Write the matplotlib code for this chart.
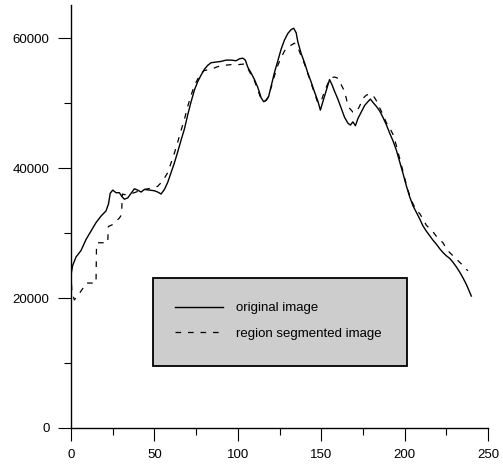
import matplotlib
matplotlib.use("Agg")
import matplotlib.pyplot as plt
from matplotlib.patches import Rectangle
from matplotlib.ticker import MultipleLocator

plt.rcParams['font.family'] = ['Liberation Sans', 'DejaVu Sans']

# original image profile
orig_x = [0, 1, 3, 6, 9, 12, 15, 18, 21, 22.5, 23.5, 25, 27, 29, 30.5, 32, 34, 36, 38, 40,
          42, 44, 47, 50, 52, 54, 56, 58, 60, 62, 64, 66, 68, 70, 72, 74, 76, 78, 80, 82,
          84, 87, 90, 93, 96, 99, 101, 103, 104.5, 106, 108, 110, 112, 114, 115.5, 117,
          118.5, 120, 122, 124, 126, 128, 130, 132, 133.5, 135, 136, 138, 140, 142, 144,
          146, 148, 149.5, 151, 153, 155, 156.5, 158, 160, 162, 164, 166, 167.5, 169,
          170.5, 172, 174, 176, 178, 179.5, 181, 183, 185, 187, 189, 191, 193, 195, 197,
          199, 201, 203, 205, 207, 209, 211, 213, 215, 217, 219, 221, 223, 225, 227, 229,
          231, 233, 235, 237, 238.5, 240]
orig_y = [23600, 25000, 26300, 27300, 29000, 30300, 31600, 32600, 33400, 34500, 36100,
          36600, 36200, 36200, 35600, 35200, 35400, 36100, 36800, 36600, 36300, 36700,
          36600, 36500, 36300, 36000, 36700, 37800, 39300, 40800, 42500, 44300, 46000,
          48200, 50200, 52000, 53300, 54300, 55200, 55800, 56200, 56300, 56400, 56600,
          56600, 56500, 56800, 56900, 56600, 55500, 54600, 53600, 52400, 50800, 50200,
          50400, 51000, 52600, 54700, 56500, 58300, 59700, 60700, 61300, 61500, 60800,
          59400, 57600, 56200, 54600, 53200, 51700, 50300, 48900, 50200, 51900, 53600,
          52800, 51800, 50600, 49200, 47800, 46900, 46600, 47100, 46500, 47600, 48600,
          49600, 50200, 50600, 50100, 49500, 48800, 47800, 46700, 45400, 44200, 42800,
          41000, 39200, 37300, 35600, 34200, 33200, 32200, 31100, 30300, 29600, 28900,
          28300, 27600, 27000, 26500, 26100, 25500, 24800, 24000, 23100, 22100, 21200,
          20300]

# region segmented image profile
seg_x = [0, 0.5, 2, 5, 8, 9, 15, 15.3, 16, 22, 22.4, 25, 29, 30.3, 30.8, 32, 35, 38, 42,
         46, 50, 52, 55, 58, 60, 62, 64, 66, 68, 70, 72, 74, 76, 78, 80, 84, 88, 92, 96,
         100, 104, 106, 110, 114, 116, 118, 120, 122, 124, 126, 128, 130, 132, 134, 136,
         138, 140, 144, 148, 150, 152, 154, 156, 158, 160, 162, 164, 165.5, 167, 169, 171,
         173, 175, 177, 179, 181, 183, 185, 187, 189, 191, 193, 195, 197, 199, 201, 203,
         205, 207, 209, 211, 213, 215, 217, 219, 221, 223, 225, 227, 229, 231, 233, 235,
         237, 238]
seg_y = [24000, 21000, 19700, 20700, 21800, 22300, 22300, 28300, 28500, 28500, 31000,
         31300, 32300, 32800, 36000, 35900, 36000, 36200, 36600, 36800, 37000, 37200,
         38000, 39300, 40800, 42300, 44000, 45800, 47500, 49500, 51200, 52700, 53700,
         54600, 55000, 55200, 55600, 55800, 55900, 55900, 56000, 55300, 53400, 50600,
         50200, 50800, 52400, 54200, 55800, 57000, 58000, 58600, 58900, 59200, 58600,
         57200, 56000, 53000, 50000, 50300, 51800, 53000, 53900, 54000, 53800, 52800,
         51800, 50200, 49200, 48600, 48600, 49500, 50700, 51200, 51400, 51200, 50400,
         49300, 48200, 47000, 46200, 45200, 43500, 41500, 39500, 37500, 35800, 34500,
         33500, 33000, 32200, 31200, 30700, 30200, 29500, 29000, 28500, 27600, 27000,
         26500, 26000, 25500, 25000, 24400, 24200]

labels = ["original image", "region segmented image"]
x_ticks = [0, 50, 100, 150, 200, 250]
y_ticks = [0, 20000, 40000, 60000]

fig = plt.figure(figsize=(5.03, 4.66), dpi=100)
ax = fig.add_axes([71 / 503, 1 - 428 / 466, 417 / 503, 423 / 466])

l1, = ax.plot(orig_x, orig_y, color='black', lw=1.0, label=labels[0])
l2, = ax.plot(seg_x, seg_y, color='black', lw=0.9, dashes=(4.5, 5.5), label=labels[1])

ax.set_xlim(0, 250)
ax.set_ylim(0, 65077)
ax.set_xticks(x_ticks)
ax.set_yticks(y_ticks)
ax.xaxis.set_minor_locator(MultipleLocator(25))
ax.yaxis.set_minor_locator(MultipleLocator(10000))
ax.tick_params(axis='both', which='major', direction='out', length=9.4, width=0.8,
               labelsize=9.5, pad=6.0, colors='black')
ax.tick_params(axis='both', which='minor', direction='out', length=4.8, width=0.8)
for s in ['top', 'right']:
    ax.spines[s].set_visible(False)
for s in ['left', 'bottom']:
    ax.spines[s].set_linewidth(1.0)

rect = Rectangle((82 / 417, 62 / 423), 254 / 417, 88 / 423, transform=ax.transAxes,
                 facecolor='#cdcdcd', edgecolor='black', lw=1.3, zorder=3)
ax.add_patch(rect)
leg = ax.legend(handles=[l1, l2], loc='center left',
                bbox_to_anchor=((175 - 71) / 417, (428 - 321) / 423),
                frameon=False, borderpad=0, borderaxespad=0, fontsize=9.5,
                handlelength=3.6, handletextpad=1.05, labelspacing=1.0)
leg.set_zorder(4)

fig.savefig('out.png', dpi=100)
